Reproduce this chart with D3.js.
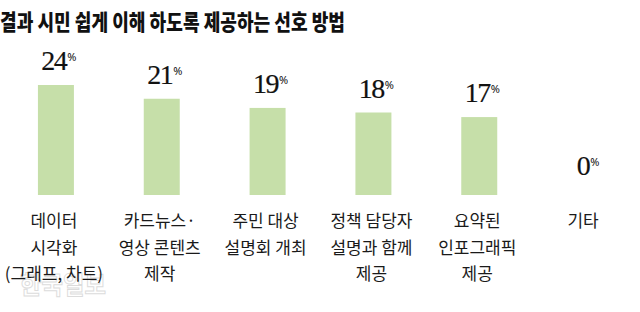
<!DOCTYPE html>
<html>
<head>
<meta charset="utf-8">
<script src="https://cdn.jsdelivr.net/npm/d3@7"></script>
<style>
  html, body { margin: 0; padding: 0; background: #fff; }
  svg { display: block; }
</style>
</head>
<body>
<div id="chart"></div>
<script>
const TITLE = '결과 시민 쉽게 이해 하도록 제공하는 선호 방법'
const categories = [
  ['데이터', '시각화', '(그래프, 차트)'],
  ['카드뉴스·', '영상 콘텐츠', '제작'],
  ['주민 대상', '설명회 개최'],
  ['정책 담당자', '설명과 함께', '제공'],
  ['요약된', '인포그래픽', '제공'],
  ['기타']
]
const values = [24, 21, 19, 18, 17, 0]

const W = 640, H = 312
const MARGIN = { top: 85, right: 2, bottom: 117, left: 3 }

const svg = d3.select('#chart').append('svg')
  .attr('width', W).attr('height', H)

svg.append('text')
  .attr('x', 0).attr('y', 30)
  .attr('font-family', '"Noto Sans CJK KR", sans-serif')
  .attr('font-weight', 900)
  .attr('font-size', 22)
  .attr('fill', '#111')
  .attr('textLength', 345)
  .attr('lengthAdjust', 'spacingAndGlyphs')
  .text(TITLE)

// faint watermark
svg.append('text')
  .attr('x', 20).attr('y', 294)
  .attr('font-family', '"Noto Sans CJK KR", sans-serif')
  .attr('font-weight', 700)
  .attr('font-size', 25)
  .attr('fill', '#fff')
  .attr('stroke', '#dcdcdc')
  .attr('stroke-width', 1)
  .attr('textLength', 86)
  .attr('lengthAdjust', 'spacingAndGlyphs')
  .text('한국일보')

const innerW = W - MARGIN.left - MARGIN.right
const innerH = H - MARGIN.top - MARGIN.bottom

const x = d3.scaleBand()
  .domain(d3.range(values.length))
  .range([MARGIN.left, MARGIN.left + innerW])
  .paddingInner(0.66)
  .paddingOuter(0.33)

const y = d3.scaleLinear()
  .domain([0, d3.max(values)])
  .range([MARGIN.top + innerH, MARGIN.top])

const g = svg.append('g')

g.selectAll('rect.bar')
  .data(values)
  .join('rect')
  .attr('class', 'bar')
  .attr('x', (d, i) => x(i))
  .attr('y', d => y(d))
  .attr('width', x.bandwidth())
  .attr('height', d => y(0) - y(d))
  .attr('fill', '#c6dfa9')

const vl = g.selectAll('text.val')
  .data(values)
  .join('text')
  .attr('class', 'val')
  .attr('x', (d, i) => x(i) + x.bandwidth() / 2 + 3)
  .attr('y', d => y(d) - (d === 0 ? 20 : 15))
  .attr('text-anchor', 'middle')
  .attr('font-family', '"Liberation Serif", serif')
  .attr('fill', '#111')

vl.append('tspan')
  .attr('font-size', 28)
  .attr('letter-spacing', -1.5)
  .attr('stroke', '#111')
  .attr('stroke-width', 0.2)
  .text(d => d)
vl.append('tspan')
  .attr('font-size', 11)
  .attr('dx', 1)
  .attr('dy', -9)
  .attr('font-family', '"Noto Sans", sans-serif')
  .text('%')

const cl = g.selectAll('text.cat')
  .data(categories)
  .join('text')
  .attr('class', 'cat')
  .attr('x', (d, i) => x(i) + x.bandwidth() / 2 - 2)
  .attr('y', 227)
  .attr('text-anchor', 'middle')
  .attr('font-family', '"Noto Sans CJK KR", sans-serif')
  .attr('font-size', 17)
  .attr('fill', '#1a1a1a')

cl.selectAll('tspan')
  .data(d => d)
  .join('tspan')
  .attr('x', function () { return d3.select(this.parentNode).attr('x') })
  .attr('dy', (d, i) => i === 0 ? 0 : 26.5)
  .text(d => d)
</script>
</body>
</html>
